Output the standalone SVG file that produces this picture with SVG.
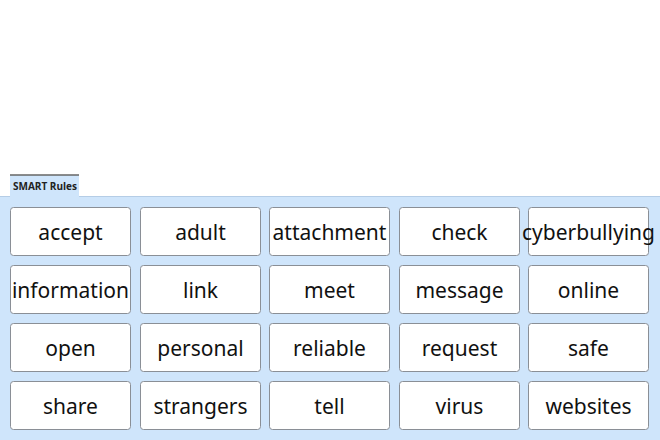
<svg xmlns="http://www.w3.org/2000/svg" width="660" height="440" viewBox="0 0 660 440">
<style>
.b{fill:#fff;stroke:#8a8f96;stroke-width:1}
.t{font-family:"Noto Sans",sans-serif;font-size:21px;fill:#111;text-anchor:middle}
</style>
<rect width="660" height="440" fill="#fff"/>
<rect x="0" y="196" width="660" height="244" fill="#cfe5fb"/>
<line x1="0" y1="196.5" x2="660" y2="196.5" stroke="#b5cde6"/>
<g id="tab"><rect x="10" y="175" width="69" height="22" fill="#cfe5fb"/><line x1="10" y1="175" x2="79" y2="175" stroke="#666" stroke-width="1.5"/>
<text x="45" y="190" font-family="Open Sans,sans-serif" font-size="10" font-weight="bold" fill="#222" text-anchor="middle">SMART Rules</text></g>
<g id="nodes">
<g id="n1"><rect class="b" x="10.5" y="207.5" width="120" height="48" rx="3"/><text class="t" x="70.5" y="240">accept</text></g>
<g id="n2"><rect class="b" x="140.5" y="207.5" width="120" height="48" rx="3"/><text class="t" x="200.5" y="240">adult</text></g>
<g id="n3"><rect class="b" x="269.5" y="207.5" width="120" height="48" rx="3"/><text class="t" x="329.5" y="240">attachment</text></g>
<g id="n4"><rect class="b" x="399.5" y="207.5" width="120" height="48" rx="3"/><text class="t" x="459.5" y="240">check</text></g>
<g id="n5"><rect class="b" x="528.5" y="207.5" width="120" height="48" rx="3"/><text class="t" x="588.5" y="240">cyberbullying</text></g>
<g id="n6"><rect class="b" x="10.5" y="265.5" width="120" height="48" rx="3"/><text class="t" x="70.5" y="298">information</text></g>
<g id="n7"><rect class="b" x="140.5" y="265.5" width="120" height="48" rx="3"/><text class="t" x="200.5" y="298">link</text></g>
<g id="n8"><rect class="b" x="269.5" y="265.5" width="120" height="48" rx="3"/><text class="t" x="329.5" y="298">meet</text></g>
<g id="n9"><rect class="b" x="399.5" y="265.5" width="120" height="48" rx="3"/><text class="t" x="459.5" y="298">message</text></g>
<g id="n10"><rect class="b" x="528.5" y="265.5" width="120" height="48" rx="3"/><text class="t" x="588.5" y="298">online</text></g>
<g id="n11"><rect class="b" x="10.5" y="323.5" width="120" height="48" rx="3"/><text class="t" x="70.5" y="356">open</text></g>
<g id="n12"><rect class="b" x="140.5" y="323.5" width="120" height="48" rx="3"/><text class="t" x="200.5" y="356">personal</text></g>
<g id="n13"><rect class="b" x="269.5" y="323.5" width="120" height="48" rx="3"/><text class="t" x="329.5" y="356">reliable</text></g>
<g id="n14"><rect class="b" x="399.5" y="323.5" width="120" height="48" rx="3"/><text class="t" x="459.5" y="356">request</text></g>
<g id="n15"><rect class="b" x="528.5" y="323.5" width="120" height="48" rx="3"/><text class="t" x="588.5" y="356">safe</text></g>
<g id="n16"><rect class="b" x="10.5" y="381.5" width="120" height="48" rx="3"/><text class="t" x="70.5" y="414">share</text></g>
<g id="n17"><rect class="b" x="140.5" y="381.5" width="120" height="48" rx="3"/><text class="t" x="200.5" y="414">strangers</text></g>
<g id="n18"><rect class="b" x="269.5" y="381.5" width="120" height="48" rx="3"/><text class="t" x="329.5" y="414">tell</text></g>
<g id="n19"><rect class="b" x="399.5" y="381.5" width="120" height="48" rx="3"/><text class="t" x="459.5" y="414">virus</text></g>
<g id="n20"><rect class="b" x="528.5" y="381.5" width="120" height="48" rx="3"/><text class="t" x="588.5" y="414">websites</text></g>
</g>
<g id="connectors"/>
</svg>
